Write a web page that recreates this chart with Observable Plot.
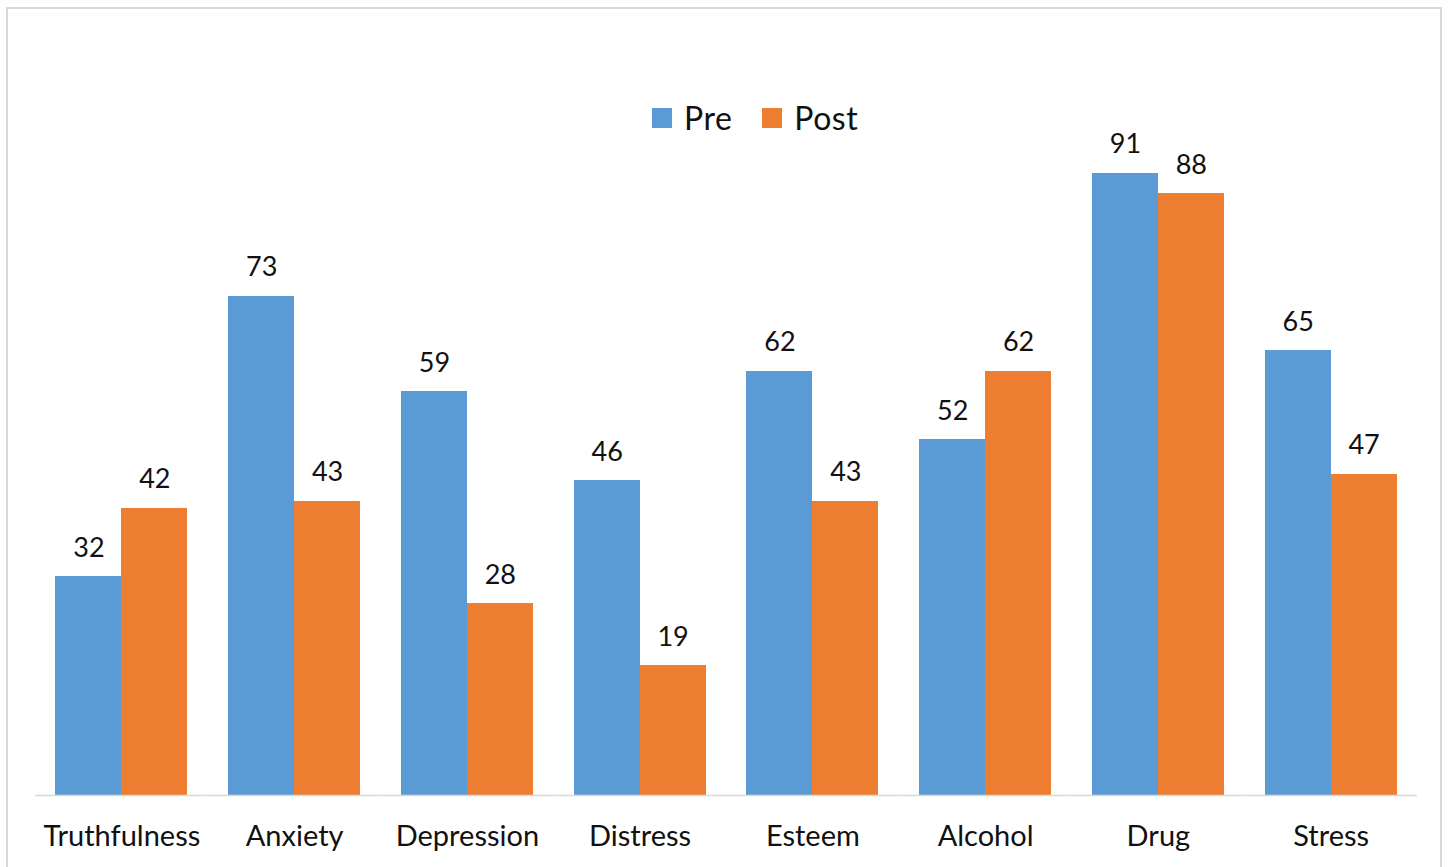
<!DOCTYPE html>
<html>
<head>
<meta charset="utf-8">
<script src="https://cdn.jsdelivr.net/npm/d3@7"></script>
<script src="https://cdn.jsdelivr.net/npm/@observablehq/plot@0.6"></script>
<style>
  html, body { margin: 0; padding: 0; background: #fff; overflow: hidden; }
  body { width: 1449px; height: 867px; position: relative; font-family: Lato, "Open Sans", sans-serif; }
  #border { position: absolute; left: 6px; top: 7px; width: 1436px; height: 900px; border: 2px solid #d9d9d9; box-sizing: border-box; }
  #chart { position: absolute; left: 0; top: 0; }
  #legend { position: absolute; left: 652px; top: 98px; display: flex; align-items: center; font-size: 32px; color: #111; letter-spacing: 0.5px; }
  .key { display: flex; align-items: center; margin-right: 30px; }
  .sw { width: 20px; height: 20px; margin-right: 12px; }
</style>
</head>
<body>
<div id="border"></div>
<div id="chart"></div>
<div id="legend"></div>
<script>
// Scale scores before and after the programme
const categories = ["Truthfulness", "Anxiety", "Depression", "Distress", "Esteem", "Alcohol", "Drug", "Stress"];
const series = ["Pre", "Post"];
const preValues = [32, 73, 59, 46, 62, 52, 91, 65];
const postValues = [42, 43, 28, 19, 43, 62, 88, 47];
const colors = ["#5B9BD5", "#ED7D31"];

const rows = categories.flatMap((c, i) => [
  {category: c, series: "Pre", value: preValues[i]},
  {category: c, series: "Post", value: postValues[i]}
]);

const font = "Lato, 'Open Sans', sans-serif";

const chart = Plot.plot({
  width: 1449,
  height: 867,
  marginLeft: 35,
  marginRight: 32,
  marginTop: 111,
  marginBottom: 72,
  style: {fontFamily: font, background: "transparent", color: "#111"},
  fx: {domain: categories, padding: 0, round: false, label: null},
  x: {domain: series, paddingInner: 0, paddingOuter: 0.309, round: false, axis: null},
  y: {domain: [0, 100], axis: null},
  color: {domain: series, range: colors},
  marks: [
    Plot.barY(rows, {fx: "category", x: "series", y: "value", fill: "series", shapeRendering: "crispEdges"}),
    Plot.ruleY([0], {stroke: "#d9d9d9", strokeWidth: 1.5}),
    Plot.text(rows, {fx: "category", x: "series", y: "value", text: d => String(d.value), lineAnchor: "bottom", dy: -20, fontSize: 27, fill: "#111"}),
    Plot.axisFx({anchor: "bottom", tickSize: 0, tickPadding: 30, fontSize: 29, label: null, fill: "#111"})
  ]
});
document.getElementById("chart").append(chart);

const legend = document.getElementById("legend");
series.forEach((s, i) => {
  const key = document.createElement("div");
  key.className = "key";
  const sw = document.createElement("span");
  sw.className = "sw";
  sw.style.background = colors[i];
  const label = document.createElement("span");
  label.textContent = s;
  key.append(sw, label);
  legend.append(key);
});
</script>
</body>
</html>
